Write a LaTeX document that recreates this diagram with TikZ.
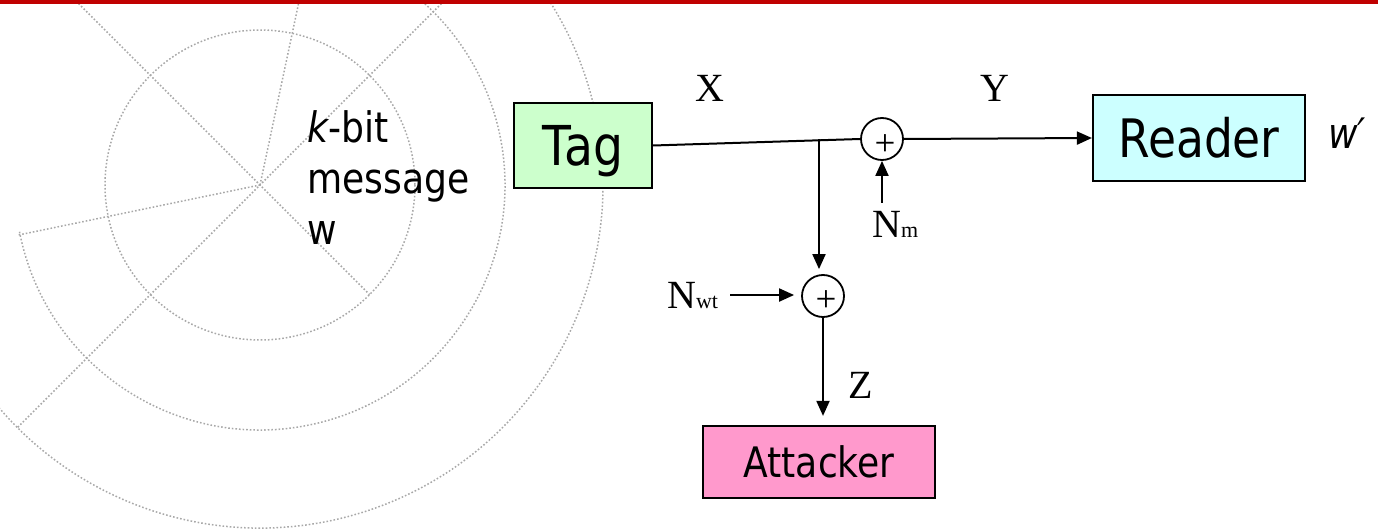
\documentclass[tikz,border=0pt]{standalone}
\usepackage{fontspec}
\usetikzlibrary{arrows.meta}
\newfontfamily\tah{DejaVu Sans}[FakeStretch=0.86]
\newfontfamily\tms{Liberation Serif}
\definecolor{tagfill}{HTML}{CCFFCC}
\definecolor{readfill}{HTML}{CCFFFF}
\definecolor{attfill}{HTML}{FF99CC}
\definecolor{barred}{HTML}{C00000}
\definecolor{bggray}{HTML}{A8A8A8}
\begin{document}
\begin{tikzpicture}[x=1pt,y=-1pt,
  bg/.style={bggray, line width=1.5pt, dash pattern=on 1.6pt off 2pt},
  blk/.style={draw=black, line width=2.2pt, inner sep=0pt},
  sumnode/.style={circle, draw=black, line width=1.8pt, minimum size=42pt, inner sep=0pt},
  lbl/.style={inner sep=0pt, font=\tms\fontsize{40}{48}\selectfont},
  plusmark/.style={inner sep=0pt, font=\tms\fontsize{37}{40}\selectfont},
  arr/.style={line width=2pt, -{Triangle[length=15pt,width=13pt]}},
  wire/.style={line width=2pt}]
\useasboundingbox (0,0) rectangle (1378,532);
% background decoration
\begin{scope}
  \clip (0,0) rectangle (1378,532);
  \coordinate (O) at (260,185);
  \draw[bg] (O) circle[radius=155];
  \draw[bg] (O) ++(-191:245) arc[start angle=-191, end angle=-410, radius=245];
  \draw[bg] (O) ++(-200:343) arc[start angle=-200, end angle=-400, radius=343];
  \draw[bg] (O) ++(-135:343) -- (O) -- ++(45:155);
  \draw[bg] (O) -- ++(-78:343);
  \draw[bg] (O) ++(-45:343) -- (O) -- ++(135:343);
  \draw[bg] (O) -- ++(-191.7:247);
\end{scope}
\fill[barred] (0,0) rectangle (1378,4.5);
% blocks
\node[blk, fill=tagfill, minimum width=138pt, minimum height=85pt,
      font=\tah\fontsize{55}{60}\selectfont, text height=40pt, text depth=0pt] (tag) at (583,145.5) {Tag};
\node[blk, fill=readfill, minimum width=212pt, minimum height=86pt,
      font=\tah\fontsize{53}{60}\selectfont, text height=38.6pt, text depth=0pt] (reader) at (1199,138) {Reader};
\node[blk, fill=attfill, minimum width=232pt, minimum height=72pt,
      font=\tah\fontsize{42}{50}\selectfont, text height=30.6pt, text depth=0pt] (att) at (819,462) {Attacker};
% summing junctions
\node[sumnode] (s1) at (882,139) {};
\node[sumnode] (s2) at (823,296) {};
\node[plusmark] (p1) at ([shift={(3,6)}]s1.center) {+};
\node[plusmark] (p2) at ([shift={(3,5)}]s2.center) {+};
% labels
\node[inner sep=0pt, anchor=north west, align=left, font=\tah\fontsize{42}{51}\selectfont] (msg) at (307,110) {{\itshape k}-bit\\message\\w};
\node[inner sep=0pt, anchor=base west, font=\tah\itshape\fontsize{42}{50}\selectfont] (wp) at (1328,148) {w′};
\node[lbl, anchor=base west] (xl) at (695,102) {X};
\node[lbl, anchor=base west] (yl) at (980,102) {Y};
\node[lbl, anchor=base west] (zl) at (848,398) {Z};
\node[lbl, anchor=base west] (nm) at (872,237) {N{\fontsize{22}{24}\selectfont m}};
\node[lbl, anchor=base west] (nwt) at (667,308) {N{\fontsize{22}{24}\selectfont wt}};
% connectors
\coordinate (br) at (819,139.5);
\draw[wire] (tag.east) -- (s1.west);
\draw[arr] (s1.east) -- (reader.west);
\draw[arr, shorten >=5pt] (br) -- (br |- s2.north);
\draw[arr, shorten <=8pt] (s1.south |- nm.north) -- (s1.south);
\draw[arr, shorten <=12pt, shorten >=7pt] (nwt.east) -- (nwt.east -| s2.west);
\draw[arr, shorten >=9pt] (s2.south) -- (s2.south |- att.north);
\end{tikzpicture}
\end{document}
